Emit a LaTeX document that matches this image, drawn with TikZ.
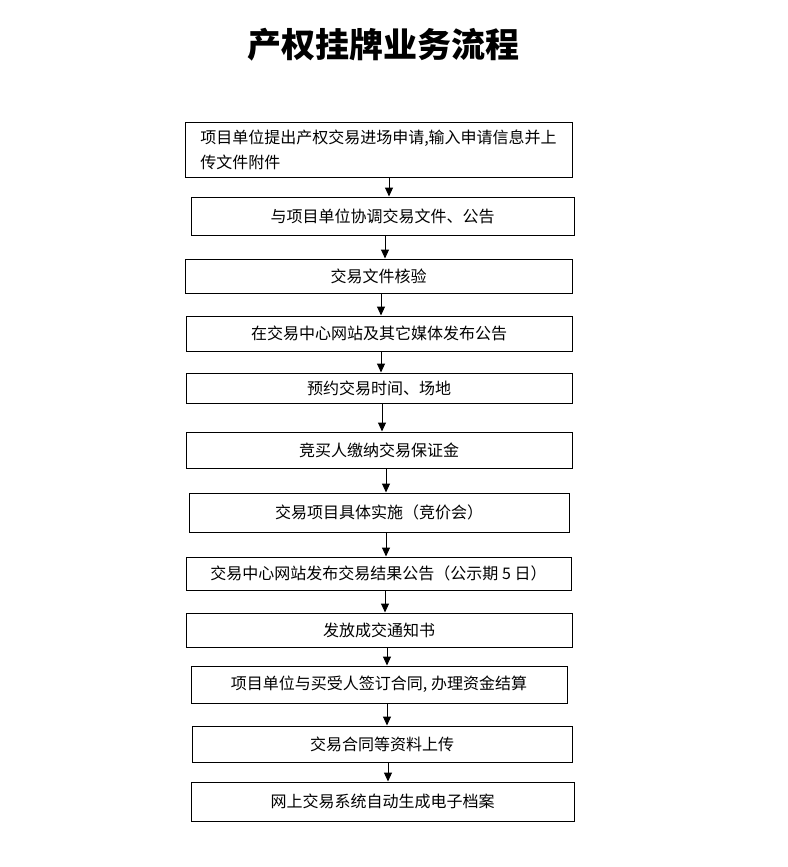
\documentclass[tikz,border=0pt]{standalone}
\usepackage{fontspec}
\newfontfamily\cjk{Noto Sans CJK SC}
\usetikzlibrary{arrows.meta}

\begin{document}
\begin{tikzpicture}[x=1pt, y=-1pt,
        main/.style = {draw, line width=1pt, inner sep=0pt, font=\cjk\fontsize{16}{25}\selectfont},
        arr/.style = {-{Triangle[length=9pt,width=8pt]}, line width=1pt}]
            \useasboundingbox (0,0) rectangle (787,867);
            \node (title) at (383,45) {\cjk\bfseries\fontsize{34}{40}\selectfont 产权挂牌业务流程};
            \node[main, minimum width=387, minimum height=55, align=left] (1) at (378.5,149.5) {项目单位提出产权交易进场申请,输入申请信息并上\\传文件附件};
            \node[main, minimum width=383, minimum height=38] (2) at (382.5,216) {与项目单位协调交易文件、公告};
            \node[main, minimum width=387, minimum height=34] (3) at (378.5,276) {交易文件核验};
            \node[main, minimum width=386, minimum height=35] (4) at (379,333.5) {在交易中心网站及其它媒体发布公告};
            \node[main, minimum width=386, minimum height=30] (5) at (379,388) {预约交易时间、场地};
            \node[main, minimum width=386, minimum height=36] (6) at (379,450) {竞买人缴纳交易保证金};
            \node[main, minimum width=380, minimum height=39] (7) at (379,512.5) {交易项目具体实施（竞价会）};
            \node[main, minimum width=385, minimum height=33] (8) at (378.5,573.5) {交易中心网站发布交易结果公告（公示期 5 日）};
            \node[main, minimum width=386, minimum height=34] (9) at (379,630) {发放成交通知书};
            \node[main, minimum width=376, minimum height=37] (10) at (379,684.5) {项目单位与买受人签订合同, 办理资金结算};
            \node[main, minimum width=380, minimum height=36] (11) at (382,744) {交易合同等资料上传};
            \node[main, minimum width=383, minimum height=39] (12) at (382.5,801.5) {网上交易系统自动生成电子档案};
            \draw[arr] (1.south -| 389,0) -- (2.north -| 389,0);
            \draw[arr] (2.south -| 385,0) -- (3.north -| 385,0);
            \draw[arr] (3.south -| 381,0) -- (4.north -| 381,0);
            \draw[arr] (4.south -| 381,0) -- (5.north -| 381,0);
            \draw[arr] (5.south -| 382,0) -- (6.north -| 382,0);
            \draw[arr] (6.south -| 386,0) -- (7.north -| 386,0);
            \draw[arr] (7.south -| 386,0) -- (8.north -| 386,0);
            \draw[arr] (8.south -| 385,0) -- (9.north -| 385,0);
            \draw[arr] (9.south -| 387,0) -- (10.north -| 387,0);
            \draw[arr] (10.south -| 387,0) -- (11.north -| 387,0);
            \draw[arr] (11.south -| 388,0) -- (12.north -| 388,0);
        \end{tikzpicture}
\end{document}
